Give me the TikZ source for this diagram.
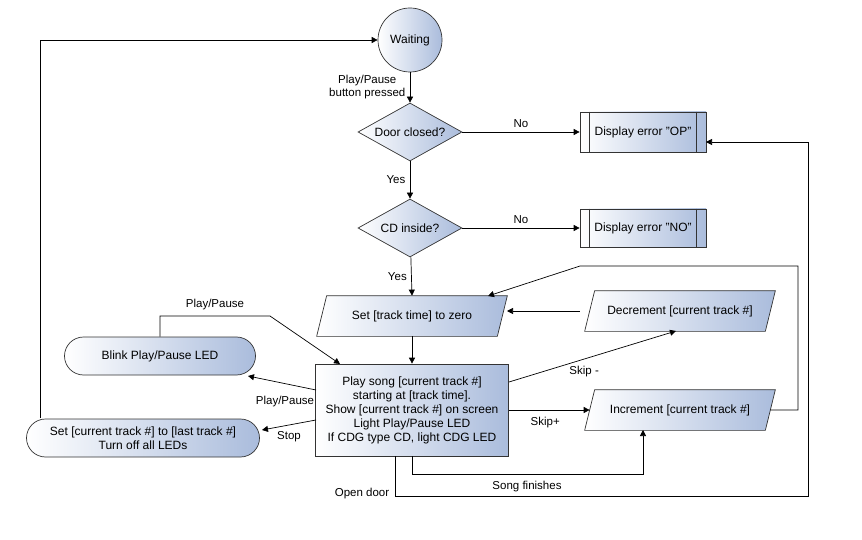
\documentclass[tikz,border=0pt]{standalone}
\usepackage{fontspec}
\setmainfont{Liberation Sans}
\usetikzlibrary{shapes.geometric,shapes.misc,arrows.meta}
\definecolor{fb}{RGB}{170,188,220}
\newcommand{\mypara}[3]{%
 \node[align=center,minimum width=190pt,minimum height=40pt,inner sep=0pt] (#1) at #2 {};
 \draw[black!80,line width=0.7pt,left color=white,right color=fb] ([xshift=10pt]#1.north west)--(#1.north east)--([xshift=-10pt]#1.south east)--(#1.south west)--cycle;
 \node[align=center] at (#1.center) {#3};}
\begin{document}
\begin{tikzpicture}[x=1pt,y=-1pt,font=\fontsize{12}{14}\selectfont,line width=0.7pt,
 base/.style={draw=black!80,left color=white,right color=fb,align=center,inner sep=2pt},
 blk/.style={base,rectangle,minimum width=126pt,minimum height=40pt},
 rnd/.style={base,rounded rectangle,minimum height=38pt},
 dia/.style={base,diamond,minimum width=104pt,minimum height=58pt,inner sep=0pt,aspect=1.8},
 ar/.style={-{Triangle[length=6pt,width=6pt]},black},
 lb/.style={font=\fontsize{11.5}{13}\selectfont,align=center}]
\useasboundingbox (0,0) rectangle (862,540);
\node[base,circle,minimum size=64pt,inner sep=0pt] (wait) at (410,40) {Waiting};
\node[dia] (door) at (410,132) {Door closed?};
\node[blk] (op) at (643,132) {Display error "OP"};
\draw[black!80] ([xshift=10pt]op.north west)--([xshift=10pt]op.south west) ([xshift=-10pt]op.north east)--([xshift=-10pt]op.south east);
\node[dia] (cd) at (410,228) {CD inside?};
\node[blk,minimum height=38pt] (no) at (643,228) {Display error "NO"};
\draw[black!80] ([xshift=10pt]no.north west)--([xshift=10pt]no.south west) ([xshift=-10pt]no.north east)--([xshift=-10pt]no.south east);
\mypara{zero}{(412,316)}{Set [track time] to zero}
\mypara{dec}{(680,311)}{Decrement [current track \#]}
\mypara{inc}{(680,410)}{Increment [current track \#]}
\node[base,rectangle,minimum width=193pt,minimum height=92pt] (play) at (412,410) {Play song [current track \#]\\starting at [track time].\\Show [current track \#] on screen\\Light Play/Pause LED\\If CDG type CD, light CDG LED};
\node[rnd,minimum width=195pt] (blink) at (160,356) {Blink Play/Pause LED};
\node[rnd,minimum width=237pt] (last) at (143,438) {Set [current track \#] to [last track \#]\\Turn off all LEDs};
\draw[ar] (wait)--(door) node[lb,pos=0.5,left=1pt] {Play/Pause\\button pressed};
\draw[ar] (door)--(op.west) node[lb,pos=0.5,above=1pt] {No};
\draw[ar] (door)--(cd) node[lb,midway,left=1pt] {Yes};
\draw[ar] (cd)--(no.west) node[lb,pos=0.5,above=1pt] {No};
\draw[ar] (cd)--(zero.north) node[lb,midway,left=1pt] {Yes};
\draw[ar] (zero.south)--(play);
\draw[ar] ([xshift=-5pt]dec.west)--(507,311);
\coordinate (i1) at (798,410); \coordinate (i2) at (798,266); \coordinate (i3) at (580,266);
\draw[ar] ([xshift=-5pt]inc.east)--(i1)--(i2)--(i3)--(488,296);
\draw[ar] (509,382)--(676,331) node[lb,pos=0.45,below=3pt] {Skip -};
\draw[ar] (play.east|-inc)--([xshift=5pt]inc.west) node[lb,pos=0.45,below=3pt] {Skip+};
\coordinate (s1) at (412,474); \coordinate (s2) at (643,474);
\draw[ar] (play.south)--(s1)--(s2)--(643,430);
\node[lb] at (527,487) {Song finishes};
\coordinate (o1) at (395,496); \coordinate (o2) at (808,496); \coordinate (o3) at (808,142);
\draw[ar] (395,456)--(o1)--(o2)--(o3)--(706,142);
\node[lb] at (362,494) {Open door};
\draw[ar] (316,390)--(248,376);
\node[lb] at (285,402) {Play/Pause};
\coordinate (b1) at (160,316); \coordinate (b2) at (270,316);
\draw[ar] (blink.north)--(b1)--(b2)--(340,364);
\node[lb] at (215,305) {Play/Pause};
\draw[ar] (316,420)--(262,430) node[lb,pos=0.5,below=3pt] {Stop};
\coordinate (w1) at (40,40);
\draw[ar] (40,418)--(w1)--(wait.west);
\end{tikzpicture}
\end{document}
